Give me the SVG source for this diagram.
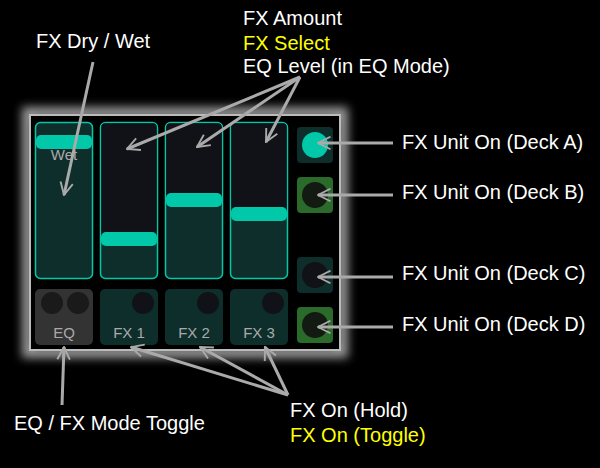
<svg xmlns="http://www.w3.org/2000/svg" width="600" height="468" viewBox="0 0 600 468">
<defs>
<filter id="glow" x="-20%" y="-20%" width="140%" height="140%"><feGaussianBlur stdDeviation="5"/></filter>
<marker id="ah" viewBox="0 0 12 12" refX="11" refY="6" markerWidth="5" markerHeight="5" orient="auto"><path d="M1,1 L11,6 L1,11" fill="none" stroke="#aaa" stroke-width="1.5"/></marker>
</defs>
<style>
text{font-family:"Liberation Sans",Arial,sans-serif;font-size:20px;fill:#fff}
.y{fill:#ffff00}
.sl{fill:#0e2e2b;stroke:#00c8a8;stroke-width:1.5}
.top{fill:#111118}
.h{fill:#00c8a8}
.bl{font-size:15px;fill:#aaa;text-anchor:middle}
.c{fill:#111118}
.conn line{stroke:#aaa;stroke-width:3;marker-end:url(#ah)}
</style>
<rect width="600" height="468" fill="#000"/>
<g id="panel">
<rect x="28" y="113" width="314" height="239" fill="none" stroke="#999" stroke-width="12" filter="url(#glow)"/>
<rect x="30" y="115" width="310" height="235" fill="#000" stroke="#bbb" stroke-width="2"/>
</g>
<g id="slider-drywet"><rect class="sl" x="35.5" y="122.5" width="57" height="156" rx="5"/><rect class="h" x="36" y="135" width="56" height="14" rx="5"/><text class="bl" x="64" y="160">Wet</text></g>
<g id="slider-fx1"><rect class="sl" x="100.5" y="122.5" width="57" height="156" rx="5"/><rect class="top" x="101.3" y="123.3" width="55.4" height="115" rx="4"/><rect class="h" x="101" y="232" width="56" height="14" rx="5"/></g>
<g id="slider-fx2"><rect class="sl" x="165.5" y="122.5" width="57" height="156" rx="5"/><rect class="top" x="166.3" y="123.3" width="55.4" height="77" rx="4"/><rect class="h" x="166" y="193" width="56" height="14" rx="5"/></g>
<g id="slider-fx3"><rect class="sl" x="230.5" y="122.5" width="57" height="156" rx="5"/><rect class="top" x="231.3" y="123.3" width="55.4" height="91" rx="4"/><rect class="h" x="231" y="207" width="56" height="14" rx="5"/></g>
<g id="btn-eq"><rect x="35" y="289" width="58" height="56" rx="5" fill="#333"/><circle cx="52" cy="303" r="11" fill="#1a1a1a"/><circle cx="78" cy="303" r="11" fill="#1a1a1a"/><text class="bl" x="64" y="338">EQ</text></g>
<g id="btn-fx1"><rect x="100" y="289" width="58" height="56" rx="5" fill="#0e2e2b"/><circle class="c" cx="143" cy="303" r="11"/><text class="bl" x="129" y="338">FX 1</text></g>
<g id="btn-fx2"><rect x="165" y="289" width="58" height="56" rx="5" fill="#0e2e2b"/><circle class="c" cx="208" cy="303" r="11"/><text class="bl" x="194" y="338">FX 2</text></g>
<g id="btn-fx3"><rect x="230" y="289" width="58" height="56" rx="5" fill="#0e2e2b"/><circle class="c" cx="273" cy="303" r="11"/><text class="bl" x="259" y="338">FX 3</text></g>
<g id="unit-a"><rect x="297" y="127" width="36" height="36" rx="4" fill="#0e2e2b"/><circle cx="315" cy="145" r="13" fill="#00c8a8"/></g>
<g id="unit-b"><rect x="297" y="177" width="36" height="36" rx="4" fill="#2a6a2a"/><circle cx="315" cy="195" r="13" fill="#121a12"/></g>
<g id="unit-c"><rect x="297" y="257" width="36" height="36" rx="4" fill="#0e2e2b"/><circle cx="315" cy="275" r="13" fill="#111118"/></g>
<g id="unit-d"><rect x="297" y="307" width="36" height="36" rx="4" fill="#2a6a2a"/><circle cx="315" cy="325" r="13" fill="#121a12"/></g>
<g class="conn" id="connectors">
<line x1="93" y1="62" x2="64" y2="195"/>
<line x1="300" y1="77" x2="127" y2="149"/>
<line x1="300" y1="77" x2="197" y2="147"/>
<line x1="300" y1="77" x2="266" y2="142"/>
<line x1="393" y1="143" x2="318" y2="143"/>
<line x1="393" y1="195" x2="318" y2="195"/>
<line x1="393" y1="277" x2="318" y2="277"/>
<line x1="393" y1="327" x2="318" y2="327"/>
<line x1="62" y1="405" x2="64" y2="347"/>
<line x1="288" y1="395" x2="131" y2="347"/>
<line x1="288" y1="395" x2="200" y2="347"/>
<line x1="288" y1="395" x2="265" y2="347"/>
</g>
<g id="labels">
<text x="36" y="48">FX Dry / Wet</text>
<text x="243" y="25">FX Amount</text>
<text class="y" x="243" y="50">FX Select</text>
<text x="243" y="73">EQ Level (in EQ Mode)</text>
<text x="402" y="149">FX Unit On (Deck A)</text>
<text x="402" y="199">FX Unit On (Deck B)</text>
<text x="402" y="280">FX Unit On (Deck C)</text>
<text x="402" y="331">FX Unit On (Deck D)</text>
<text x="14" y="430">EQ / FX Mode Toggle</text>
<text x="290" y="417">FX On (Hold)</text>
<text class="y" x="290" y="442">FX On (Toggle)</text>
</g>
</svg>
